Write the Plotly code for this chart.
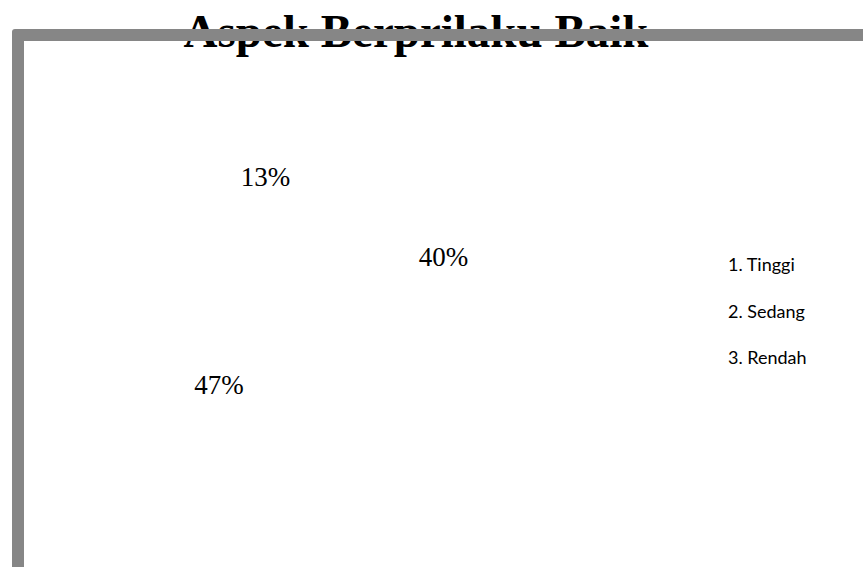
import plotly.graph_objects as go

# ---- data ----
categories = ["1. Tinggi", "2. Sedang", "3. Rendah"]
values = [13, 40, 47]
title_text = "Aspek Berprilaku Baik"

W, H = 863, 567
FRAME = "#868686"

fig = go.Figure()

# Title drawn as text on a hidden full-figure axis so the frame can sit on top of it
fig.add_trace(go.Scatter(
    x=[416], y=[35], mode="text", text=[f"<b>{title_text}</b>"],
    textposition="middle center",
    textfont=dict(family="Liberation Serif", size=47, color="black"),
    hoverinfo="skip", showlegend=False, cliponaxis=False,
))

# Legend entries (invisible swatches) with spacing via group gap
for cat in categories:
    fig.add_trace(go.Scatter(
        x=[None], y=[None], mode="markers", name=cat, legendgroup=cat,
        marker=dict(color="rgba(0,0,0,0)", size=1),
        hoverinfo="skip", showlegend=True,
    ))

# Pie (slices are white/invisible, only percentage labels visible)
R = 170
hole = 0.553
cx, cy = 318, 298
fig.add_trace(go.Pie(
    labels=categories, values=values, sort=False, direction="clockwise",
    rotation=-46.8, hole=hole,
    marker=dict(colors=["white", "white", "white"], line=dict(width=0, color="white")),
    textinfo="percent", textposition="inside", insidetextorientation="horizontal",
    textfont=dict(family="Liberation Serif", size=27, color="black"),
    domain=dict(x=[(cx - R) / W, (cx + R) / W], y=[1 - (cy + R) / H, 1 - (cy - R) / H]),
    showlegend=False, hoverinfo="skip",
))

fig.update_layout(
    width=W, height=H,
    margin=dict(l=0, r=0, t=0, b=0),
    paper_bgcolor="white", plot_bgcolor="white",
    xaxis=dict(range=[0, W], visible=False, fixedrange=True, autorange=False),
    yaxis=dict(range=[H, 0], visible=False, fixedrange=True, autorange=False),
    showlegend=True,
    legend=dict(
        x=(728 - 40) / W, y=1 - 246 / H, xanchor="left", yanchor="top",
        traceorder="grouped", tracegroupgap=20,
        bgcolor="rgba(0,0,0,0)",
        font=dict(family="Lato", size=18, color="black"),
    ),
    shapes=[dict(
        type="path", xref="x", yref="y", layer="above",
        path="M 12,600 L 12,32 Q 12,29 15,29 L 900,29 L 900,41 L 24,41 L 24,600 Z",
        fillcolor=FRAME, line=dict(width=0),
    )],
)

fig.write_html(
    "out.html",
    config={"displayModeBar": False},
    post_script="document.body.style.margin='0';document.body.style.overflow='hidden';",
)
